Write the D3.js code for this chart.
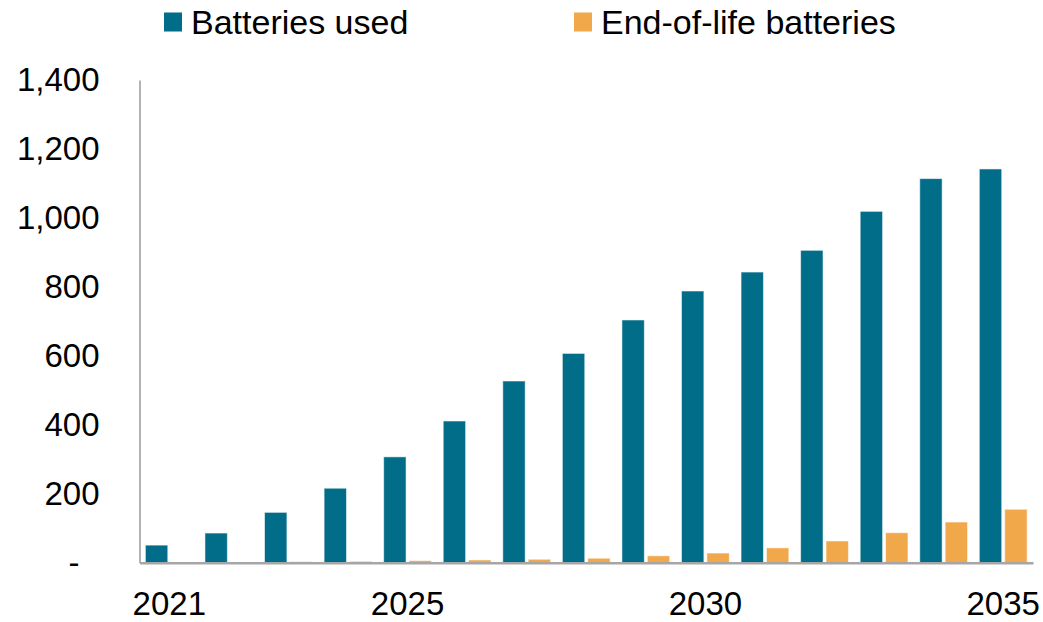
<!DOCTYPE html>
<html>
<head>
<meta charset="utf-8">
<script src="https://cdn.jsdelivr.net/npm/d3@7"></script>
<style>
  html, body { margin: 0; padding: 0; background: #fff; }
  svg { display: block; font-family: "Liberation Sans", Arial, sans-serif; }
</style>
</head>
<body>
<svg id="chart" width="1043" height="622"></svg>
<script>
// Annual figures, 2021-2035
const years = [2021, 2022, 2023, 2024, 2025, 2026, 2027, 2028, 2029, 2030, 2031, 2032, 2033, 2034, 2035];
const batteriesUsed = [51, 86, 146, 216, 307, 411, 527, 607, 704, 788, 843, 906, 1019, 1114, 1142];
const endOfLife = [0, 2, 3, 4, 6, 8, 10, 13, 20, 28, 43, 63, 87, 118, 155];
const seriesNames = ["Batteries used", "End-of-life batteries"];
const seriesColors = ["#016d88", "#f1a84b"];
const yTicks = [0, 200, 400, 600, 800, 1000, 1200, 1400];
const xTickYears = [2021, 2025, 2030, 2035];

const svg = d3.select("#chart");
const plotLeft = 139.5, plotRight = 1033, plotTop = 80, plotBottom = 562.7;

const x0 = d3.scaleBand().domain(years).range([plotLeft, plotRight]).paddingInner(0).paddingOuter(0);
const x1 = d3.scaleBand().domain(seriesNames).range([0, x0.bandwidth()])
  .paddingInner(0.118).paddingOuter(0.232);
const y = d3.scaleLinear().domain([0, 1400]).range([plotBottom, plotTop]);

const rows = years.map((yr, i) => ({ year: yr, values: [batteriesUsed[i], endOfLife[i]] }));

// Bars
const groups = svg.append("g").selectAll("g").data(rows).join("g")
  .attr("transform", d => `translate(${x0(d.year)},0)`);
groups.selectAll("rect")
  .data(d => d.values.map((v, k) => ({ key: seriesNames[k], value: v, k })).filter(d => d.value > 0))
  .join("rect")
  .attr("x", d => x1(d.key))
  .attr("width", x1.bandwidth())
  .attr("y", d => y(d.value))
  .attr("height", d => plotBottom - y(d.value))
  .attr("fill", d => seriesColors[d.k])
  .attr("stroke", "#ffffff")
  .attr("stroke-opacity", 0.55)
  .attr("stroke-width", 1);

// Y axis
const yAxis = svg.append("g").attr("transform", `translate(${plotLeft},0)`)
  .call(d3.axisLeft(y).tickValues(yTicks).tickSize(0).tickPadding(40)
    .tickFormat(d => d === 0 ? "-" : d3.format(",")(d)));
yAxis.select(".domain").attr("stroke", "#b3b3b3").attr("stroke-width", 2);
yAxis.selectAll("text").attr("font-size", 33).attr("fill", "#000")
  .attr("font-family", "'Liberation Sans', Arial, sans-serif")
  .attr("dx", d => d === 0 ? -20 : 0);

// X axis
const xAxis = svg.append("g").attr("transform", `translate(0,${plotBottom})`)
  .call(d3.axisBottom(x0).tickValues(xTickYears).tickSize(0).tickSizeOuter(0).tickPadding(29));
xAxis.select(".domain").attr("stroke", "#a6a6a6").attr("stroke-width", 2.5);
xAxis.selectAll("text").attr("font-size", 33).attr("fill", "#000")
  .attr("font-family", "'Liberation Sans', Arial, sans-serif");

// Legend
const legendX = [164, 574];
const legend = svg.append("g").selectAll("g").data(seriesNames).join("g")
  .attr("transform", (d, i) => `translate(${legendX[i]},0)`);
legend.append("rect").attr("x", 0).attr("y", 12.5).attr("width", 18).attr("height", 19)
  .attr("fill", (d, i) => seriesColors[i]);
legend.append("text").attr("x", 27).attr("y", 33.5)
  .attr("font-size", 34).attr("fill", "#000").text(d => d);
</script>
</body>
</html>
